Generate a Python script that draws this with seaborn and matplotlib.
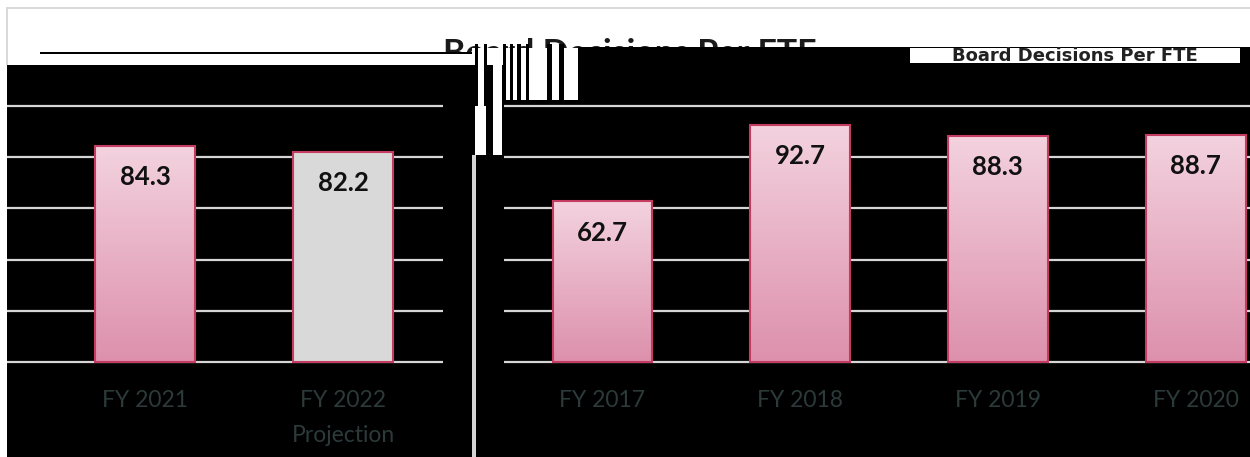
import numpy as np
import matplotlib.pyplot as plt
import seaborn as sns
from matplotlib.patches import Rectangle
from matplotlib.colors import LinearSegmentedColormap

# data
left_cats = ["FY 2021", "FY 2022\nProjection"]
left_vals = [84.3, 82.2]
left_colors = ["#eab4c7", "#d9d9d9"]
left_gradient = [True, False]

right_cats = ["FY 2017", "FY 2018", "FY 2019", "FY 2020"]
right_vals = [62.7, 92.7, 88.3, 88.7]
right_colors = ["#eab4c7"] * 4
right_gradient = [True] * 4

grid_ticks = [0, 20, 40, 60, 80, 100]
title = "Board Decisions Per FTE"

W, H = 1250, 457
sns.set_theme(style="white")
plt.rcParams['font.family'] = ['Lato', 'DejaVu Sans']

fig = plt.figure(figsize=(W / 100, H / 100), dpi=100)
fig.patch.set_facecolor('white')


def box(x0, y0, x1, y1):
    # pixel box with top-left origin -> [left, bottom, width, height] in figure fraction
    return [x0 / W, 1 - y1 / H, (x1 - x0) / W, (y1 - y0) / H]


def rect(x0, y0, x1, y1, color, z):
    l, b, w, h = box(x0, y0, x1, y1)
    fig.add_artist(Rectangle((l, b), w, h, transform=fig.transFigure,
                             facecolor=color, edgecolor='none', zorder=z))


# --- background blocks / frame ---
rect(7, 7, 1250, 9, '#d9d9d9', -3)
rect(6, 7, 8, 65, '#d9d9d9', -3)
rect(7, 65, 472, 457, 'black', -3)
rect(476, 155, 1250, 457, 'black', -3)
rect(472, 155, 476, 457, '#d4d4d4', -3)
rect(472, 65, 505, 155, 'black', -3)
rect(475, 65, 486, 155, 'white', -2.8)
rect(493, 65, 502, 155, 'white', -2.8)

# broken title, mostly hidden behind the plot blocks
fig.text(630 / W, 1 - 64 / H, title, ha='center', va='baseline', fontsize=24.5,
         fontweight='bold', color='#1a1a1a', zorder=-2)

rect(40, 54, 472, 65, 'white', -1.8)
rect(472, 48, 505, 65, 'white', -1.8)
for x0, x1 in [(475, 478), (484, 487), (503, 506), (510, 513), (517, 521),
               (526, 529), (547, 552), (559, 564)]:
    rect(x0, 44, x1, 106, 'black', -1.5)
rect(505, 48, 578, 100, 'white', -1.7)
rect(578, 47, 1250, 101, 'black', -1)
rect(40, 52, 472, 54, 'black', -1)

# garbled caption strip at the top right
rect(910, 48, 1240, 63, 'white', -0.6)
fig.text(1075 / W, 1 - 56 / H, title, ha='center', va='center', fontsize=13,
         fontweight='bold', color='#222222', zorder=-0.5, family=['DejaVu Sans'])

# --- the two bar panels ---
PX_PER_UNIT = 2.56
BASE = 362
YMIN = -1.0
bottom_px = BASE - YMIN * PX_PER_UNIT

ax1 = fig.add_axes(box(7, 65, 443, bottom_px))
ax2 = fig.add_axes(box(504, 100, 1250, bottom_px))

pink = LinearSegmentedColormap.from_list('pink', ['#dd90ac', '#f3d2de'])
grad = np.linspace(0, 1, 256).reshape(-1, 1)

panels = [
    (ax1, left_cats, left_vals, left_colors, left_gradient, (-0.697, 1.505), 65),
    (ax2, right_cats, right_vals, right_colors, right_gradient, (-0.498, 3.275), 100),
]

for ax, cats, vals, colors, use_grad, xlim, top_px in panels:
    sns.barplot(x=cats, y=vals, hue=cats, palette=colors, legend=False, ax=ax,
                width=0.505, edgecolor='#c43c62', linewidth=1.5, saturation=1)
    for patch, g in zip(ax.patches, use_grad):
        patch.set_zorder(3)
        if g:
            x, w, h = patch.get_x(), patch.get_width(), patch.get_height()
            im = ax.imshow(grad, extent=[x, x + w, 0, h], origin='lower', aspect='auto',
                           cmap=pink, zorder=2, interpolation='bicubic')
            im.set_clip_path(patch)
            patch.set_facecolor('none')
    for i, v in enumerate(vals):
        ax.annotate(f"{v:.1f}", (i, v), xytext=(0, -22.5), textcoords='offset points',
                    ha='center', va='center', fontsize=18.5, fontweight='bold',
                    color='#111111', zorder=4)

    ax.set_facecolor('black')
    ax.set_xlim(*xlim)
    ax.set_ylim(YMIN, (BASE - top_px) / PX_PER_UNIT)
    ax.set_yticks(grid_ticks)
    ax.yaxis.grid(True, color='#d6d6d6', linewidth=1.6)
    ax.xaxis.grid(False)
    ax.set_axisbelow(True)
    ax.tick_params(axis='y', left=False, labelleft=False)
    ax.set_xticks(range(len(cats)))
    ax.set_xticklabels(cats, color='#2c3a3a', fontsize=16.5)
    for t in ax.get_xticklabels():
        t.set_linespacing(1.85)
    ax.tick_params(axis='x', length=0, pad=18)
    ax.set_xlabel('')
    ax.set_ylabel('')
    for s in ax.spines.values():
        s.set_visible(False)

plt.savefig('out.png', dpi=100, facecolor='white')
